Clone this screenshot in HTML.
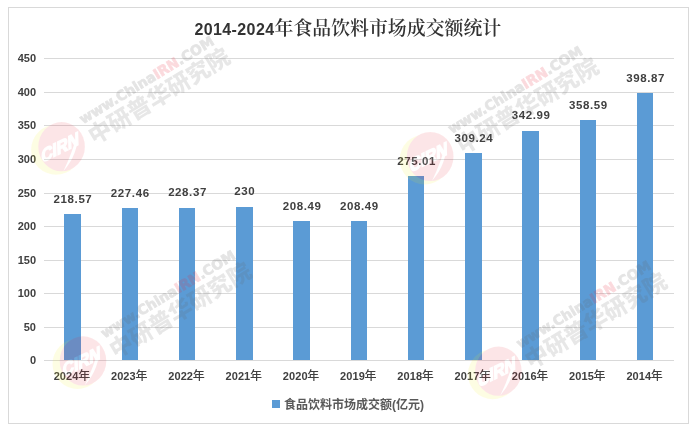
<!DOCTYPE html><html><head><meta charset="utf-8"><style>
html,body{margin:0;padding:0;background:#fff;width:696px;height:431px;overflow:hidden}
svg{display:block}
.ax{font-family:"Liberation Sans","Noto Sans CJK SC",sans-serif;font-weight:bold;fill:#404040}
.wu{font-family:"DejaVu Sans",sans-serif;font-weight:bold;font-size:13.8px;fill:#646464;stroke:#646464;stroke-width:0.8px}
.wc{font-family:"Liberation Sans","Noto Sans CJK SC",sans-serif;font-weight:900;font-size:23px;letter-spacing:0px;fill:#646464}
.wr{fill:#e8283c;stroke:#e8283c}
.wn{font-family:"Liberation Sans",sans-serif;font-weight:bold;font-size:17px;fill:#fff;stroke:#fff;stroke-width:1.3px}
</style></head><body>
<svg width="696" height="431" viewBox="0 0 696 431">
<defs><filter id="sb" x="-20%" y="-20%" width="140%" height="140%"><feGaussianBlur stdDeviation="0.6"/></filter></defs>
<rect x="0" y="0" width="696" height="431" fill="#fff"/>
<rect x="8.5" y="7.5" width="680" height="416" fill="#fff" stroke="#d9d9d9" stroke-width="1"/>
<line x1="44" y1="360.5" x2="674" y2="360.5" stroke="#d9d9d9" stroke-width="1"/>
<line x1="44" y1="327.5" x2="674" y2="327.5" stroke="#d9d9d9" stroke-width="1"/>
<line x1="44" y1="293.5" x2="674" y2="293.5" stroke="#d9d9d9" stroke-width="1"/>
<line x1="44" y1="260.5" x2="674" y2="260.5" stroke="#d9d9d9" stroke-width="1"/>
<line x1="44" y1="226.5" x2="674" y2="226.5" stroke="#d9d9d9" stroke-width="1"/>
<line x1="44" y1="193.5" x2="674" y2="193.5" stroke="#d9d9d9" stroke-width="1"/>
<line x1="44" y1="159.5" x2="674" y2="159.5" stroke="#d9d9d9" stroke-width="1"/>
<line x1="44" y1="125.5" x2="674" y2="125.5" stroke="#d9d9d9" stroke-width="1"/>
<line x1="44" y1="92.5" x2="674" y2="92.5" stroke="#d9d9d9" stroke-width="1"/>
<line x1="44" y1="58.5" x2="674" y2="58.5" stroke="#d9d9d9" stroke-width="1"/>
<text class="ax" x="36" y="364.1" font-size="11" text-anchor="end">0</text>
<text class="ax" x="36" y="331.1" font-size="11" text-anchor="end">50</text>
<text class="ax" x="36" y="297.1" font-size="11" text-anchor="end">100</text>
<text class="ax" x="36" y="264.1" font-size="11" text-anchor="end">150</text>
<text class="ax" x="36" y="230.1" font-size="11" text-anchor="end">200</text>
<text class="ax" x="36" y="197.1" font-size="11" text-anchor="end">250</text>
<text class="ax" x="36" y="163.1" font-size="11" text-anchor="end">300</text>
<text class="ax" x="36" y="129.1" font-size="11" text-anchor="end">350</text>
<text class="ax" x="36" y="96.1" font-size="11" text-anchor="end">400</text>
<text class="ax" x="36" y="62.1" font-size="11" text-anchor="end">450</text>
<rect x="64" y="214" width="17" height="146" fill="#5b9bd5"/>
<text class="ax" x="72.99" y="203" font-size="11.5" letter-spacing="0.6" text-anchor="middle">218.57</text>
<text class="ax" x="78.54" y="380" font-size="11" letter-spacing="0.1" text-anchor="end">2024</text>
<text class="ax" x="78.14" y="380" font-size="12" style="font-family:Noto Sans CJK SC,sans-serif;font-weight:500">年</text>
<rect x="122" y="208" width="16" height="152" fill="#5b9bd5"/>
<text class="ax" x="130.26" y="197" font-size="11.5" letter-spacing="0.6" text-anchor="middle">227.46</text>
<text class="ax" x="135.81" y="380" font-size="11" letter-spacing="0.1" text-anchor="end">2023</text>
<text class="ax" x="135.41" y="380" font-size="12" style="font-family:Noto Sans CJK SC,sans-serif;font-weight:500">年</text>
<rect x="179" y="208" width="16" height="152" fill="#5b9bd5"/>
<text class="ax" x="187.53" y="196" font-size="11.5" letter-spacing="0.6" text-anchor="middle">228.37</text>
<text class="ax" x="193.08" y="380" font-size="11" letter-spacing="0.1" text-anchor="end">2022</text>
<text class="ax" x="192.68" y="380" font-size="12" style="font-family:Noto Sans CJK SC,sans-serif;font-weight:500">年</text>
<rect x="236" y="207" width="17" height="153" fill="#5b9bd5"/>
<text class="ax" x="244.80" y="195" font-size="11.5" letter-spacing="0.6" text-anchor="middle">230</text>
<text class="ax" x="250.35" y="380" font-size="11" letter-spacing="0.1" text-anchor="end">2021</text>
<text class="ax" x="249.95" y="380" font-size="12" style="font-family:Noto Sans CJK SC,sans-serif;font-weight:500">年</text>
<rect x="293" y="221" width="17" height="139" fill="#5b9bd5"/>
<text class="ax" x="302.08" y="210" font-size="11.5" letter-spacing="0.6" text-anchor="middle">208.49</text>
<text class="ax" x="307.63" y="380" font-size="11" letter-spacing="0.1" text-anchor="end">2020</text>
<text class="ax" x="307.23" y="380" font-size="12" style="font-family:Noto Sans CJK SC,sans-serif;font-weight:500">年</text>
<rect x="351" y="221" width="16" height="139" fill="#5b9bd5"/>
<text class="ax" x="359.35" y="210" font-size="11.5" letter-spacing="0.6" text-anchor="middle">208.49</text>
<text class="ax" x="364.90" y="380" font-size="11" letter-spacing="0.1" text-anchor="end">2019</text>
<text class="ax" x="364.50" y="380" font-size="12" style="font-family:Noto Sans CJK SC,sans-serif;font-weight:500">年</text>
<rect x="408" y="176" width="16" height="184" fill="#5b9bd5"/>
<text class="ax" x="416.62" y="165" font-size="11.5" letter-spacing="0.6" text-anchor="middle">275.01</text>
<text class="ax" x="422.17" y="380" font-size="11" letter-spacing="0.1" text-anchor="end">2018</text>
<text class="ax" x="421.77" y="380" font-size="12" style="font-family:Noto Sans CJK SC,sans-serif;font-weight:500">年</text>
<rect x="465" y="153" width="17" height="207" fill="#5b9bd5"/>
<text class="ax" x="473.90" y="142" font-size="11.5" letter-spacing="0.6" text-anchor="middle">309.24</text>
<text class="ax" x="479.45" y="380" font-size="11" letter-spacing="0.1" text-anchor="end">2017</text>
<text class="ax" x="479.05" y="380" font-size="12" style="font-family:Noto Sans CJK SC,sans-serif;font-weight:500">年</text>
<rect x="522" y="131" width="17" height="229" fill="#5b9bd5"/>
<text class="ax" x="531.17" y="119" font-size="11.5" letter-spacing="0.6" text-anchor="middle">342.99</text>
<text class="ax" x="536.72" y="380" font-size="11" letter-spacing="0.1" text-anchor="end">2016</text>
<text class="ax" x="536.32" y="380" font-size="12" style="font-family:Noto Sans CJK SC,sans-serif;font-weight:500">年</text>
<rect x="580" y="120" width="16" height="240" fill="#5b9bd5"/>
<text class="ax" x="588.44" y="109" font-size="11.5" letter-spacing="0.6" text-anchor="middle">358.59</text>
<text class="ax" x="593.99" y="380" font-size="11" letter-spacing="0.1" text-anchor="end">2015</text>
<text class="ax" x="593.59" y="380" font-size="12" style="font-family:Noto Sans CJK SC,sans-serif;font-weight:500">年</text>
<rect x="637" y="93" width="16" height="267" fill="#5b9bd5"/>
<text class="ax" x="645.71" y="82" font-size="11.5" letter-spacing="0.6" text-anchor="middle">398.87</text>
<text class="ax" x="651.26" y="380" font-size="11" letter-spacing="0.1" text-anchor="end">2014</text>
<text class="ax" x="650.86" y="380" font-size="12" style="font-family:Noto Sans CJK SC,sans-serif;font-weight:500">年</text>
<text x="347.8" y="35" text-anchor="middle" fill="#333" font-weight="bold"><tspan font-family="Liberation Sans, sans-serif" font-size="16" letter-spacing="0.4">2014-2024</tspan><tspan font-family="Liberation Serif, Noto Serif CJK SC, serif" font-size="18.9" font-weight="600">年食品饮料市场成交额统计</tspan></text>
<rect x="272" y="400" width="8" height="8" fill="#5b9bd5"/>
<text x="284" y="409" font-family="Liberation Sans, Noto Sans CJK SC, sans-serif" font-size="12" font-weight="bold" fill="#595959">食品饮料市场成交额(亿元)</text>
<g transform="translate(61.6,146.7)">
<g opacity="0.11"><g filter="url(#sb)"><circle cx="-5.5" cy="3" r="25" fill="#f5ee10"/><ellipse cx="0" cy="0" rx="23.3" ry="24.6" fill="#ed1e32"/></g>
<path d="M16.5,-15.2 A58,58 0 0 1 1.9,24.3 A230,230 0 0 0 16.5,-15.2 Z" fill="#fff"/>
<text class="wn" x="-1" y="4.5" text-anchor="middle" transform="translate(-0.5,1.5) rotate(-26) skewX(-24)">CIRN</text></g>
<g transform="rotate(-31.3)">
<g opacity="0.17"><text class="wu" x="30" y="-8">www.China<tspan class="wr">IRN</tspan>.COM</text></g>
<g opacity="0.15"><text class="wc" x="29" y="15.5">中研普华研究院</text></g>
</g></g>
<g transform="translate(430.2,156.5)">
<g opacity="0.11"><g filter="url(#sb)"><circle cx="-5.5" cy="3" r="25" fill="#f5ee10"/><ellipse cx="0" cy="0" rx="23.3" ry="24.6" fill="#ed1e32"/></g>
<path d="M16.5,-15.2 A58,58 0 0 1 1.9,24.3 A230,230 0 0 0 16.5,-15.2 Z" fill="#fff"/>
<text class="wn" x="-1" y="4.5" text-anchor="middle" transform="translate(-0.5,1.5) rotate(-26) skewX(-24)">CIRN</text></g>
<g transform="rotate(-31.3)">
<g opacity="0.17"><text class="wu" x="30" y="-8">www.China<tspan class="wr">IRN</tspan>.COM</text></g>
<g opacity="0.15"><text class="wc" x="29" y="15.5">中研普华研究院</text></g>
</g></g>
<g transform="translate(83,360.9)">
<g opacity="0.11"><g filter="url(#sb)"><circle cx="-5.5" cy="3" r="25" fill="#f5ee10"/><ellipse cx="0" cy="0" rx="23.3" ry="24.6" fill="#ed1e32"/></g>
<path d="M16.5,-15.2 A58,58 0 0 1 1.9,24.3 A230,230 0 0 0 16.5,-15.2 Z" fill="#fff"/>
<text class="wn" x="-1" y="4.5" text-anchor="middle" transform="translate(-0.5,1.5) rotate(-26) skewX(-24)">CIRN</text></g>
<g transform="rotate(-31.3)">
<g opacity="0.17"><text class="wu" x="30" y="-8">www.China<tspan class="wr">IRN</tspan>.COM</text></g>
<g opacity="0.15"><text class="wc" x="29" y="15.5">中研普华研究院</text></g>
</g></g>
<g transform="translate(498.4,371.2)">
<g opacity="0.11"><g filter="url(#sb)"><circle cx="-5.5" cy="3" r="25" fill="#f5ee10"/><ellipse cx="0" cy="0" rx="23.3" ry="24.6" fill="#ed1e32"/></g>
<path d="M16.5,-15.2 A58,58 0 0 1 1.9,24.3 A230,230 0 0 0 16.5,-15.2 Z" fill="#fff"/>
<text class="wn" x="-1" y="4.5" text-anchor="middle" transform="translate(-0.5,1.5) rotate(-26) skewX(-24)">CIRN</text></g>
<g transform="rotate(-31.3)">
<g opacity="0.17"><text class="wu" x="30" y="-8">www.China<tspan class="wr">IRN</tspan>.COM</text></g>
<g opacity="0.15"><text class="wc" x="29" y="15.5">中研普华研究院</text></g>
</g></g>
</svg></body></html>
